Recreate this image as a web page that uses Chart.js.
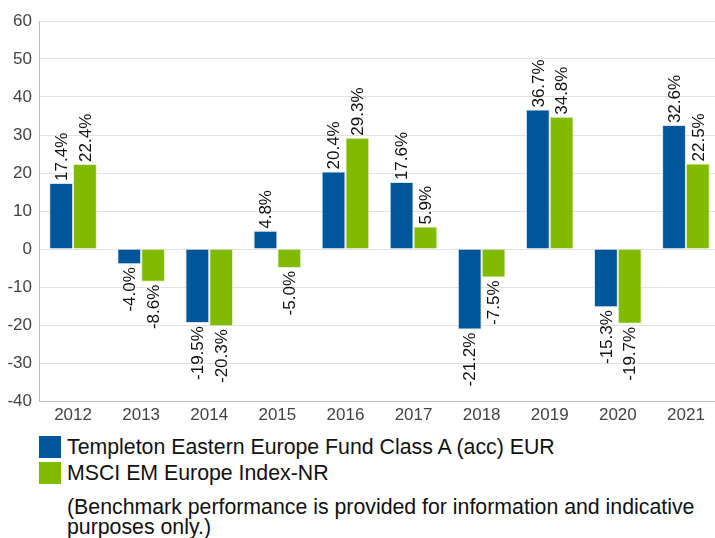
<!DOCTYPE html>
<html lang="en">
    <head>
        <meta charset="utf-8" />
        <script src="https://cdn.jsdelivr.net/npm/chart.js@4/dist/chart.umd.min.js"></script>
        <title>Calendar year performance</title>
        <style>
            body { margin: 0; background: #fff; font-family: "Liberation Sans", Arial, sans-serif; }
            #wrap { position: relative; width: 715px; height: 538px; overflow: hidden; }
            #chartBox { position: absolute; left: 0; top: 0; width: 720px; height: 430px; }
            .leg { position: absolute; left: 39px; font-size: 21.3px; color: #111; line-height: 22px; white-space: nowrap; }
            .leg span { display: inline-block; width: 22px; height: 22px; vertical-align: top; margin-right: 6px; }
            #note { position: absolute; left: 67px; top: 497px; font-size: 21.3px; line-height: 20px; color: #111; width: 645px; }
        </style>
    </head>
    <body>
        <div id="wrap">
            <div id="chartBox"><canvas id="grafico"></canvas></div>
            <div class="leg" style="top:436px"><span style="background:#00569b"></span>Templeton Eastern Europe Fund Class A (acc) EUR</div>
            <div class="leg" style="top:462px"><span style="background:#80bb00"></span>MSCI EM Europe Index-NR</div>
            <div id="note">(Benchmark performance is provided for information and indicative purposes only.)</div>
        </div>
        <script>
            // datos
            const anios = ["2012", "2013", "2014", "2015", "2016", "2017", "2018", "2019", "2020", "2021"];
            const fondo = [17.4, -4.0, -19.5, 4.8, 20.4, 17.6, -21.2, 36.7, -15.3, 32.6];
            const indice = [22.4, -8.6, -20.3, -5.0, 29.3, 5.9, -7.5, 34.8, -19.7, 22.5];
            const nombres = ["Templeton Eastern Europe Fund Class A (acc) EUR", "MSCI EM Europe Index-NR"];
            const colores = ["#00569b", "#80bb00"];

            // etiquetas giradas sobre / bajo cada barra
            const etiquetas = {
                id: "etiquetas",
                afterDatasetsDraw(chart) {
                    const ctx = chart.ctx;
                    ctx.save();
                    ctx.font = "17px 'Liberation Sans', Arial, sans-serif";
                    ctx.fillStyle = "#111";
                    ctx.textBaseline = "middle";
                    chart.data.datasets.forEach((ds, i) => {
                        chart.getDatasetMeta(i).data.forEach((bar, j) => {
                            const v = ds.data[j];
                            const txt = v.toFixed(1) + "%";
                            ctx.save();
                            if (v >= 0) {
                                ctx.translate(bar.x, bar.y - 2);
                                ctx.rotate(-Math.PI / 2);
                                ctx.textAlign = "left";
                            } else {
                                ctx.translate(bar.x, bar.y + 3);
                                ctx.rotate(-Math.PI / 2);
                                ctx.textAlign = "right";
                            }
                            ctx.fillText(txt, 0, 1);
                            ctx.restore();
                        });
                    });
                    ctx.restore();
                }
            };

            new Chart(document.getElementById("grafico").getContext("2d"), {
                type: "bar",
                data: {
                    labels: anios,
                    datasets: [
                        { label: nombres[0], data: fondo, backgroundColor: colores[0], borderColor: "#d6e4ef", borderWidth: 1 },
                        { label: nombres[1], data: indice, backgroundColor: colores[1], borderColor: "#e3f0c6", borderWidth: 1 }
                    ]
                },
                options: {
                    responsive: true,
                    maintainAspectRatio: false,
                    animation: false,
                    layout: { padding: { top: 21, right: 0, left: 0, bottom: 0 } },
                    datasets: { bar: { categoryPercentage: 0.7, barPercentage: 1.0 } },
                    scales: {
                        x: {
                            grid: { display: false, drawTicks: false },
                            border: { color: "#bdbdbd" },
                            ticks: { color: "#444", font: { size: 17, family: "'Liberation Sans', Arial" }, padding: 4, maxRotation: 0 },
                            afterFit: (s) => { s.height = 29; }
                        },
                        y: {
                            min: -40, max: 60,
                            grid: { color: "#e2e2e2", drawTicks: false },
                            border: { color: "#bdbdbd" },
                            ticks: { stepSize: 10, color: "#444", font: { size: 17, family: "'Liberation Sans', Arial" }, padding: 7 },
                            afterFit: (s) => { s.width = 39; }
                        }
                    },
                    plugins: {
                        legend: { display: false },
                        tooltip: { enabled: false }
                    }
                },
                plugins: [etiquetas]
            });
        </script>
    </body>
</html>
